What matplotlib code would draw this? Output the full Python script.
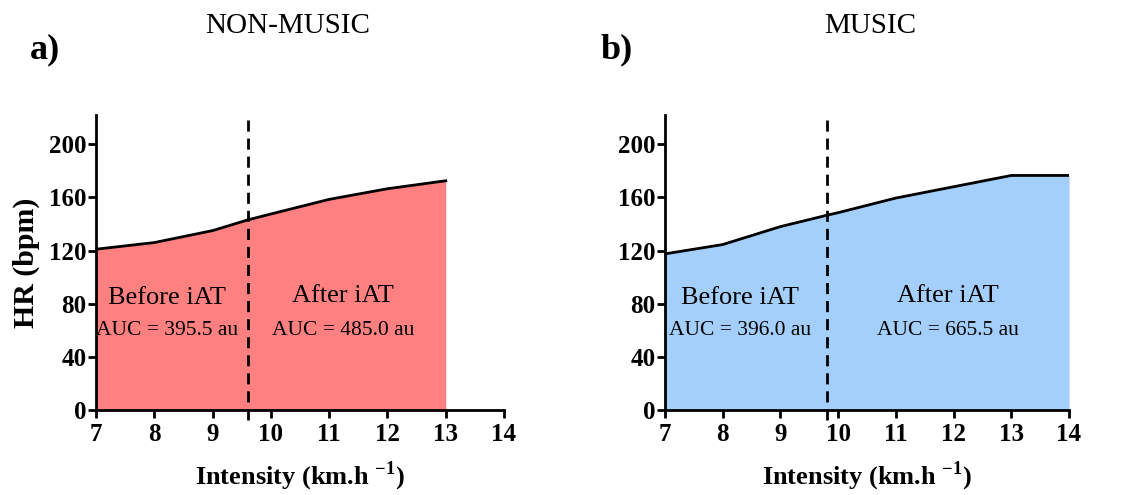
import matplotlib
matplotlib.use("Agg")
import matplotlib.pyplot as plt

plt.rcParams['font.family'] = ['Liberation Serif', 'DejaVu Serif']
plt.rcParams['mathtext.fontset'] = 'custom'
plt.rcParams['mathtext.rm'] = 'Liberation Serif'
plt.rcParams['mathtext.bf'] = 'Liberation Serif:bold'

# Data
nm_x = [7, 8, 9, 9.6, 10, 11, 12, 13]
nm_hr = [121, 126, 135, 143, 147.5, 158.5, 166.5, 172.5]
m_x = [7, 8, 9, 9.8, 10, 11, 12, 13, 14]
m_hr = [117.5, 124.5, 138, 146.5, 148.5, 159.5, 168, 176.5, 176.5]
nm_iat = 9.6
m_iat = 9.8
nm_auc = ["AUC = 395.5 au", "AUC = 485.0 au"]
m_auc = ["AUC = 396.0 au", "AUC = 665.5 au"]
titles = ["NON-MUSIC", "MUSIC"]
panel_labels = ["a)", "b)"]
xticks = [7, 8, 9, 10, 11, 12, 13, 14]
yticks = [0, 40, 80, 120, 160, 200]

fig = plt.figure(figsize=(11.35, 4.95), dpi=100)
ax1 = fig.add_axes([0.0846, 0.1717, 0.3595, 0.596])
ax2 = fig.add_axes([0.5859, 0.1717, 0.356, 0.596])

cfg = [
    (ax1, nm_x, nm_hr, nm_iat, nm_auc, '#FF8080', (8.22, 11.24)),
    (ax2, m_x, m_hr, m_iat, m_auc, '#A3CFFA', (8.3, 11.9)),
]

for ax, xs, ys, iat, auc, col, tx in cfg:
    ax.fill_between(xs, 0, ys, color=col, linewidth=0, zorder=1)
    ax.plot(xs, ys, color='black', lw=2, zorder=3)
    ax.axvline(iat, ymin=-0.035, ymax=1.0, color='black', lw=2,
               linestyle=(0, (4, 2.5)), clip_on=False, zorder=4)
    ax.set_xlim(7, 14)
    ax.set_ylim(0, 222)
    ax.set_xticks(xticks)
    ax.set_yticks(yticks)
    for s in ['top', 'right']:
        ax.spines[s].set_visible(False)
    for s in ['left', 'bottom']:
        ax.spines[s].set_linewidth(2)
    ax.tick_params(axis='both', which='major', direction='out', length=6,
                   width=2, labelsize=18)
    ax.tick_params(axis='y', pad=1)
    ax.tick_params(axis='x', pad=3)
    for lab in ax.get_xticklabels() + ax.get_yticklabels():
        lab.set_fontweight('bold')
    ax.set_xlabel(r'Intensity (km.h $^{\mathbf{-1}}$)', fontsize=19,
                  fontweight='bold', labelpad=10)
    ax.text(tx[0], 84, 'Before iAT', ha='center', va='center', fontsize=19, zorder=5)
    ax.text(tx[0], 59.5, auc[0], ha='center', va='center', fontsize=15.5, zorder=5)
    ax.text(tx[1], 86, 'After iAT', ha='center', va='center', fontsize=19, zorder=5)
    ax.text(tx[1], 59.5, auc[1], ha='center', va='center', fontsize=15.5, zorder=5)

ax1.set_ylabel('HR (bpm)', fontsize=21.5, fontweight='bold', labelpad=6)

fig.text(288 / 1135, 1 - 26 / 495, titles[0], ha='center', va='center', fontsize=21)
fig.text(870 / 1135, 1 - 26 / 495, titles[1], ha='center', va='center', fontsize=21)
fig.text(45 / 1135, 1 - 50 / 495, panel_labels[0], ha='center', va='center',
         fontsize=26, fontweight='bold')
fig.text(617 / 1135, 1 - 50 / 495, panel_labels[1], ha='center', va='center',
         fontsize=26, fontweight='bold')

fig.savefig('out.png', dpi=100, facecolor='white')
